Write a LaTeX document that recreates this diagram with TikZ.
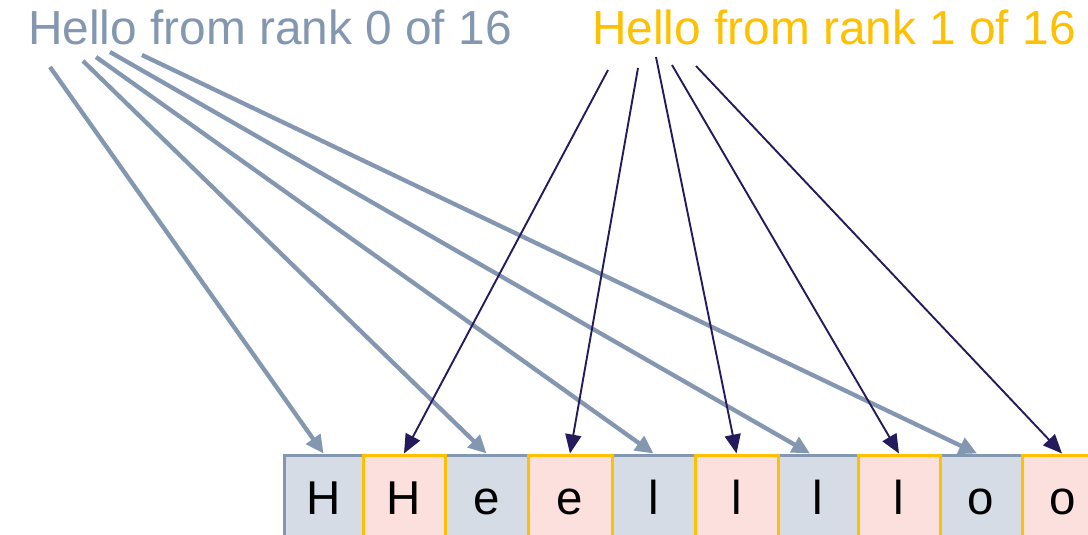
\documentclass[tikz,border=0pt]{standalone}
\usepackage{fontspec}
\setmainfont{Liberation Sans}
\usetikzlibrary{arrows.meta}
\definecolor{bluegray}{HTML}{8497B0}
\definecolor{lightgray}{HTML}{D6DCE5}
\definecolor{pinkfill}{HTML}{FBE0DD}
\definecolor{gold}{HTML}{FFC000}
\definecolor{navy}{HTML}{251B5C}
\tikzset{
  cell/.style={inner sep=0pt, minimum height=85pt, line width=3pt, text height=34pt, text depth=0pt, font=\fontsize{47.5}{50}\selectfont, text=black},
  gcell/.style={cell, draw=bluegray, fill=lightgray},
  ycell/.style={cell, draw=gold, fill=pinkfill},
  title/.style={inner sep=0pt, anchor=base west, font=\fontsize{47.8}{50}\selectfont},
  garrow/.style={draw=bluegray, line width=4.3pt, -{Triangle[length=18pt,width=17pt]}},
  narrow/.style={draw=navy, line width=1.9pt, -{Triangle[length=19pt,width=16pt]}},
}
\begin{document}
\begin{tikzpicture}[x=1pt,y=-1pt]
\useasboundingbox (0,0) rectangle (1088,535);
\node[title, text=bluegray] (t0) at (28,45) {Hello from rank 0 of 16};
\node[title, text=gold] (t1) at (592,45) {Hello from rank 1 of 16};
% boxes
\node[gcell, minimum width=79pt] (b1) at (323.5,497.5) {H};
\node[gcell, minimum width=83pt] (b3) at (486.5,497.5) {e};
\node[gcell, minimum width=83pt] (b5) at (653.5,497.5) {l};
\node[gcell, minimum width=80pt] (b7) at (818,497.5) {l};
\node[gcell, minimum width=82pt] (b9) at (981,497.5) {o};
\node[ycell, minimum width=82pt] (b2) at (404,497.5) {H};
\node[ycell, minimum width=84pt] (b4) at (570,497.5) {e};
\node[ycell, minimum width=83pt] (b6) at (736.5,497.5) {l};
\node[ycell, minimum width=82pt] (b8) at (899,497.5) {l};
\node[ycell, minimum width=82pt] (b10) at (1063,497.5) {o};
% sources
\coordinate (g1) at (50,67);
\coordinate (g2) at (83,61);
\coordinate (g3) at (96,57);
\coordinate (g4) at (110,52);
\coordinate (g5) at (142,55);
\coordinate (n1) at (608,70);
\coordinate (n2) at (638,68);
\coordinate (n3) at (656,57);
\coordinate (n4) at (672,65);
\coordinate (n5) at (696,66);
% arrows
\draw[garrow] (g1) -- (b1.north);
\draw[garrow] (g2) -- (b3.north);
\draw[garrow] (g3) -- (b5.north);
\draw[garrow] (g4) -- ([xshift=-8pt]b7.north);
\draw[garrow] (g5) -- ([xshift=-4pt]b9.north);
\draw[narrow] (n1) -- (b2.north);
\draw[narrow] (n2) -- (b4.north);
\draw[narrow] (n3) -- (b6.north);
\draw[narrow] (n4) -- (b8.north);
\draw[narrow] (n5) -- ([xshift=-1pt]b10.north);
\end{tikzpicture}
\end{document}
